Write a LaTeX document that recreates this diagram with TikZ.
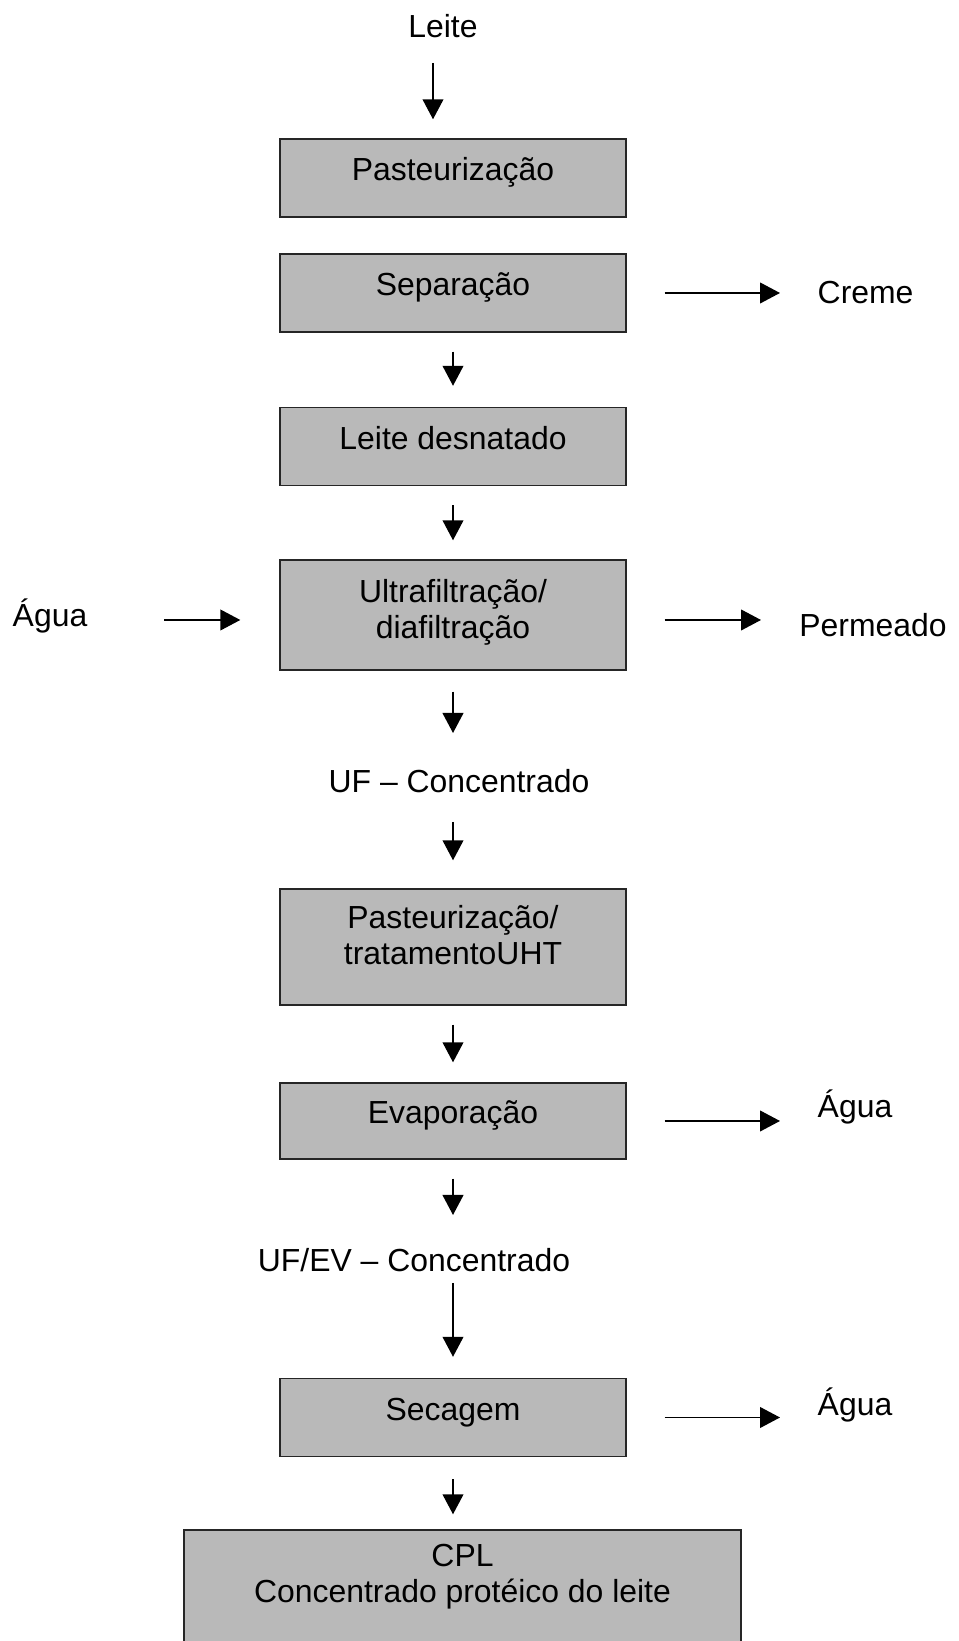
\documentclass[tikz,border=0pt]{standalone}
\usepackage{fontspec}
\setmainfont{Liberation Sans}
\usetikzlibrary{arrows.meta}
\definecolor{cinza}{RGB}{185,185,185}
\tikzset{
  caixa/.style={draw=black!85, line width=1pt, fill=cinza, minimum width=8.65cm,
    minimum height=1.95cm, inner sep=0pt, align=center,
    text height=0.45cm, text depth=0.314cm},
  rotulo/.style={inner sep=0pt},
  seta/.style={line width=1.1pt, -{Triangle[length=0.5cm,width=0.52cm]}}
}
\begin{document}
\begin{tikzpicture}[font=\fontsize{22.7}{25.5}\selectfont]
    \useasboundingbox (0,0) rectangle (23.95,41.025);

    % Etapas do processo
    \node[caixa] (past) at (11.325,36.575) {Pasteurização};
    \node[caixa] (sep) at (11.325,33.7) {Separação};
    \node[caixa] (desn) at (11.325,29.8625) {Leite desnatado};
    \node[caixa, minimum height=2.75cm, text height=1.5cm, text depth=0.324cm]
      (uf) at (11.325,25.65) {Ultrafiltração/\\diafiltração};
    \node[caixa, minimum height=2.9cm, text height=1.2cm, text depth=0.324cm]
      (uht) at (11.325,17.35) {Pasteurização/\\tratamentoUHT};
    \node[caixa, minimum height=1.9cm] (evap) at (11.325,13.0) {Evaporação};
    \node[caixa] (sec) at (11.325,5.5875) {Secagem};
    \node[caixa, minimum width=13.925cm, minimum height=3.75cm, text height=0.2cm, text depth=0.345cm]
      (cpl) at (11.5625,0.9) {CPL\\Concentrado protéico do leite};

    % Entradas, saídas e produtos intermediários
    \node[rotulo] (leite) at (11.075,40.375) {Leite};
    \node[rotulo] (creme) at (21.64,33.72) {Creme};
    \node[rotulo] (aguaEnt) at (1.25,25.625) {Água};
    \node[rotulo] (perm) at (21.825,25.4) {Permeado};
    \node[rotulo] (ufConc) at (11.475,21.5) {UF – Concentrado};
    \node[rotulo] (aguaEvap) at (21.375,13.35) {Água};
    \node[rotulo] (ufevConc) at (10.35,9.525) {UF/EV – Concentrado};
    \node[rotulo] (aguaSec) at (21.375,5.9) {Água};

    % Setas verticais
    \draw[seta, shorten <=0.925cm, shorten >=0.475cm]
      ([xshift=-0.25cm]leite.center) -- ([xshift=-0.25cm]leite.center |- past.north);
    \draw[seta, shorten <=0.475cm, shorten >=0.525cm] (sep.south) -- (desn.north);
    \draw[seta, shorten <=0.475cm, shorten >=0.475cm] (desn.south) -- (uf.north);
    \draw[seta, shorten <=0.525cm, shorten >=1.2cm] (uf.south) -- (uf.south |- ufConc.center);
    \draw[seta, shorten <=1.025cm, shorten >=0.7cm] (ufConc.center -| uht.north) -- (uht.north);
    \draw[seta, shorten <=0.475cm, shorten >=0.5cm] (uht.south) -- (evap.north);
    \draw[seta, shorten <=0.475cm, shorten >=1.125cm] (evap.south) -- (evap.south |- ufevConc.center);
    \draw[seta, shorten <=0.575cm, shorten >=0.525cm] (ufevConc.center -| sec.north) -- (sec.north);
    \draw[seta, shorten <=0.55cm, shorten >=0.375cm] (sec.south) -- (sec.south |- cpl.north);

    % Setas laterais
    \draw[seta, shorten <=0.95cm, shorten >=2.14cm] (sep.east) -- (sep.east -| creme.center);
    \draw[seta, shorten <=2.85cm, shorten >=0.975cm]
      (aguaEnt.center |- uf.west) ++(0,-0.125) coordinate (ufEnt) (ufEnt) -- ([yshift=-0.125cm]uf.west);
    \draw[seta, shorten <=0.95cm, shorten >=2.8cm]
      ([yshift=-0.125cm]uf.east) -- ([yshift=-0.125cm]uf.east -| perm.center);
    \draw[seta, shorten <=0.95cm, shorten >=1.875cm] (evap.east) -- (evap.east -| aguaEvap.center);
    \draw[seta, shorten <=0.95cm, shorten >=1.875cm] (sec.east) -- (sec.east -| aguaSec.center);
\end{tikzpicture}
\end{document}
